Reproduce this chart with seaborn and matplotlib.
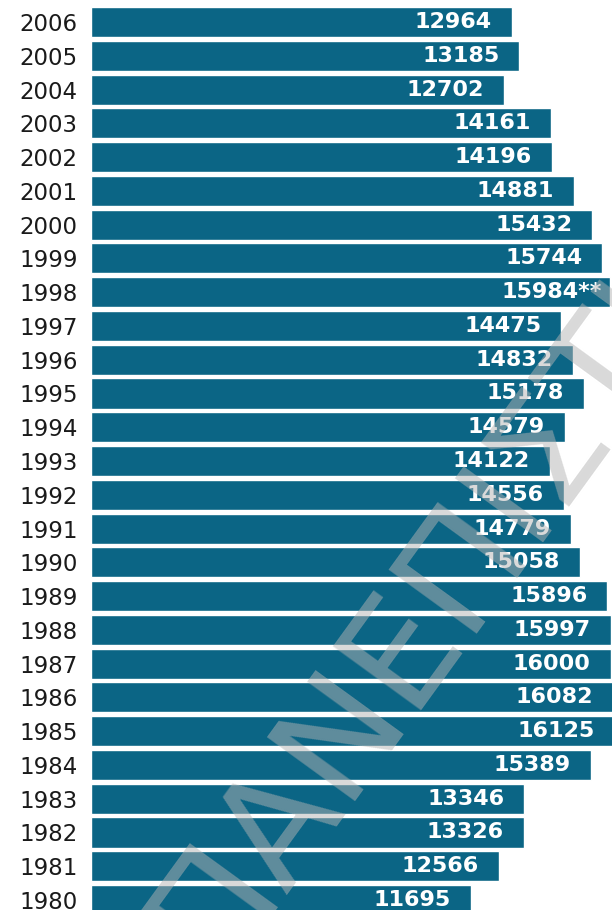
import pandas as pd
import matplotlib
matplotlib.use('Agg')
import matplotlib.pyplot as plt
import seaborn as sns

# Values, newest year on top
years = ['2006', '2005', '2004', '2003', '2002', '2001', '2000', '1999', '1998',
         '1997', '1996', '1995', '1994', '1993', '1992', '1991', '1990', '1989',
         '1988', '1987', '1986', '1985', '1984', '1983', '1982', '1981', '1980']
values = [12964, 13185, 12702, 14161, 14196, 14881, 15432, 15744, 15984,
          14475, 14832, 15178, 14579, 14122, 14556, 14779, 15058, 15896,
          15997, 16000, 16082, 16125, 15389, 13346, 13326, 12566, 11695]
value_labels = [str(v) for v in values]
value_labels[years.index('1998')] = '15984**'

df = pd.DataFrame({'year': years, 'value': values})

sns.set_theme(style='white')
plt.rcParams['font.family'] = ['DejaVu Sans']

fig = plt.figure(figsize=(6.12, 9.10), dpi=100)
ax = fig.add_axes([91 / 612, 0, 521 / 612, 1])

sns.barplot(data=df, x='value', y='year', order=years, orient='h',
            color='#0b6585', saturation=1, width=0.89, ax=ax)

ax.set_xlim(0, 16040)
ax.set_ylim(26.295, -0.652)
ax.set_xlabel('')
ax.set_ylabel('')
ax.set_xticks([])
sns.despine(ax=ax, left=True, bottom=True)
ax.tick_params(axis='y', length=0, pad=9.5, labelsize=16.5, labelcolor='#1a1a1a')

# value labels inside the bar ends
for patch, lab in zip(ax.patches, value_labels):
    pad = 5.8 if lab.endswith('**') else 14.4
    ax.annotate(lab, (patch.get_width(), patch.get_y() + patch.get_height() / 2),
                xytext=(-pad, 0), textcoords='offset points',
                ha='right', va='center', color='white', fontsize=16,
                fontweight='bold', annotation_clip=False)

# watermark
fig.text(0.351, -0.071, 'ΠΑΝΕΠΙΣΤΗΜΙΟ', rotation=54, rotation_mode='anchor',
         ha='left', va='baseline', fontsize=108, color='#b4b4b4', alpha=0.5,
         zorder=10)

fig.savefig('out.png', dpi=100)
